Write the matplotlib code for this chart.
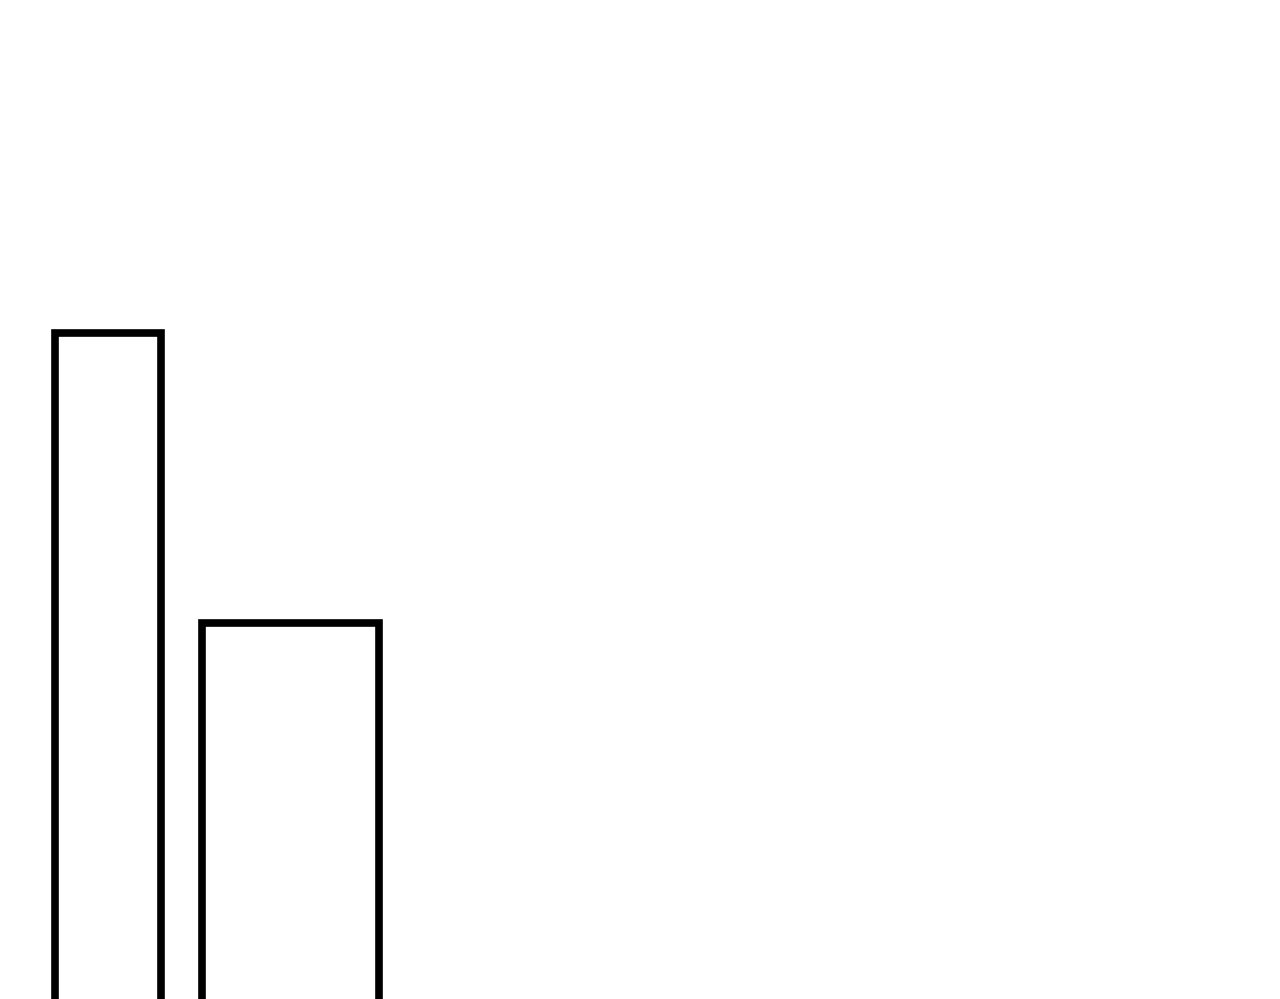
import matplotlib
matplotlib.use("Agg")
import matplotlib.pyplot as plt

# two outlined bars, no axes or text
categories = ["A", "B"]
values = [666, 376]
centers = [108, 290.5]
widths = [106, 177]

fig = plt.figure(figsize=(12.8, 9.99), dpi=100)
ax = fig.add_axes([0, 0, 1, 1])
ax.set_xlim(0, 1280)
ax.set_ylim(0, 999)
ax.axis("off")

base = -50
ax.bar(centers, [v - base for v in values], width=widths, bottom=base,
       facecolor="white", edgecolor="black", linewidth=5.5)

fig.savefig("out.png", dpi=100, facecolor="white")
